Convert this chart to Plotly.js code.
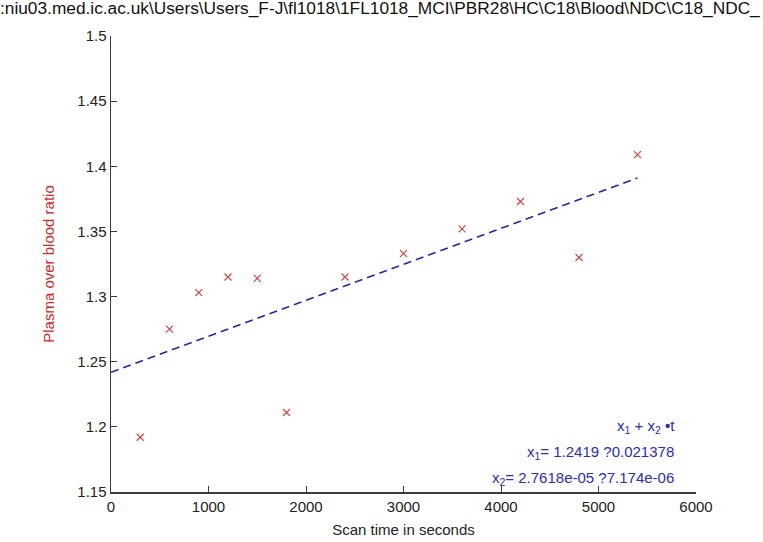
<!DOCTYPE html>
<html>
<head>
<meta charset="utf-8">
<script src="https://cdn.plot.ly/plotly-3.0.1.min.js"></script>
<style>html,body{margin:0;padding:0;background:#fff;}#chart{width:763px;height:542px;}</style>
</head>
<body>
<div id="chart"></div>
<script>
// Measured data (scan time in seconds, plasma-over-blood ratio)
const scanTimes = [300, 600, 900, 1200, 1500, 1800, 2400, 3000, 3600, 4200, 4800, 5400];
const ratios    = [1.192, 1.275, 1.303, 1.315, 1.314, 1.211, 1.315, 1.333, 1.352, 1.373, 1.330, 1.409];

// Linear fit parameters x1 + x2*t
const fitIntercept = 1.2419;
const fitSlope = 2.7618e-05;
const fitRange = [0, 5400];

const xTicks = [0, 1000, 2000, 3000, 4000, 5000, 6000];
const xTickLabels = ['0', '1000', '2000', '3000', '4000', '5000', '6000'];
const yTicks = [1.15, 1.2, 1.25, 1.3, 1.35, 1.4, 1.45, 1.5];
const yTickLabels = ['1.15', '1.2', '1.25', '1.3', '1.35', '1.4', '1.45', '1.5'];

const titleText = ':niu03.med.ic.ac.uk\\Users\\Users_F-J\\fl1018\\1FL1018_MCI\\PBR28\\HC\\C18\\Blood\\NDC\\C18_NDC_';
const eqLines = ['x<sub>1</sub> + x<sub>2</sub> <b>\u2022</b>t',
                 'x<sub>1</sub>= 1.2419 ?0.021378',
                 'x<sub>2</sub>= 2.7618e-05 ?7.174e-06'];

const fitY = fitRange.map(t => fitIntercept + fitSlope * t);

const FONT = '"Liberation Sans", Arial, sans-serif';
const blue = '#2b2bc0';

const traces = [
  {
    x: scanTimes, y: ratios, type: 'scatter', mode: 'markers',
    marker: {symbol: 'x-thin-open', size: 7, color: '#cc4646', line: {color: '#cc4646', width: 1.2}},
    hoverinfo: 'skip', showlegend: false
  },
  {
    x: fitRange, y: fitY, type: 'scatter', mode: 'lines',
    line: {color: '#2424a8', width: 1.5, dash: '8px,5px'},
    hoverinfo: 'skip', showlegend: false
  }
];

const axisCommon = {
  showgrid: false, zeroline: false, showline: true, linecolor: '#3c3c3c', linewidth: 1.5,
  ticks: 'inside', ticklen: 6, tickcolor: '#3c3c3c', tickwidth: 1,
  tickfont: {family: FONT, size: 15, color: '#222'}, tickmode: 'array', mirror: false
};

const layout = {
  width: 763, height: 542,
  paper_bgcolor: '#ffffff', plot_bgcolor: '#ffffff',
  margin: {l: 111, r: 67, t: 36, b: 50, pad: 0},
  title: {text: titleText, xref: 'container', x: 0.0, xanchor: 'left', yref: 'container', y: 0.997, yanchor: 'top',
          font: {family: FONT, size: 17.3, color: '#111'}},
  xaxis: Object.assign({}, axisCommon, {
    range: [0, 6000], tickvals: xTicks, ticktext: xTickLabels,
    title: {text: 'Scan time in seconds', font: {family: FONT, size: 15, color: '#222'}, standoff: 11}
  }),
  yaxis: Object.assign({}, axisCommon, {
    range: [1.15, 1.5], tickvals: yTicks, ticktext: yTickLabels,
    title: {text: 'Plasma over blood ratio', font: {family: FONT, size: 15, color: '#d02828'}, standoff: 19}
  }),
  annotations: [
    {xref: 'paper', yref: 'paper', x: 0.968, y: 0.143, xanchor: 'right', yanchor: 'middle', showarrow: false,
     text: eqLines[0], font: {family: FONT, size: 15, color: blue}},
    {xref: 'paper', yref: 'paper', x: 0.965, y: 0.087, xanchor: 'right', yanchor: 'middle', showarrow: false,
     text: eqLines[1], font: {family: FONT, size: 15, color: blue}},
    {xref: 'paper', yref: 'paper', x: 0.965, y: 0.03, xanchor: 'right', yanchor: 'middle', showarrow: false,
     text: eqLines[2], font: {family: FONT, size: 15, color: blue}}
  ]
};

Plotly.newPlot('chart', traces, layout, {staticPlot: true, displayModeBar: false});
</script>
</body>
</html>
